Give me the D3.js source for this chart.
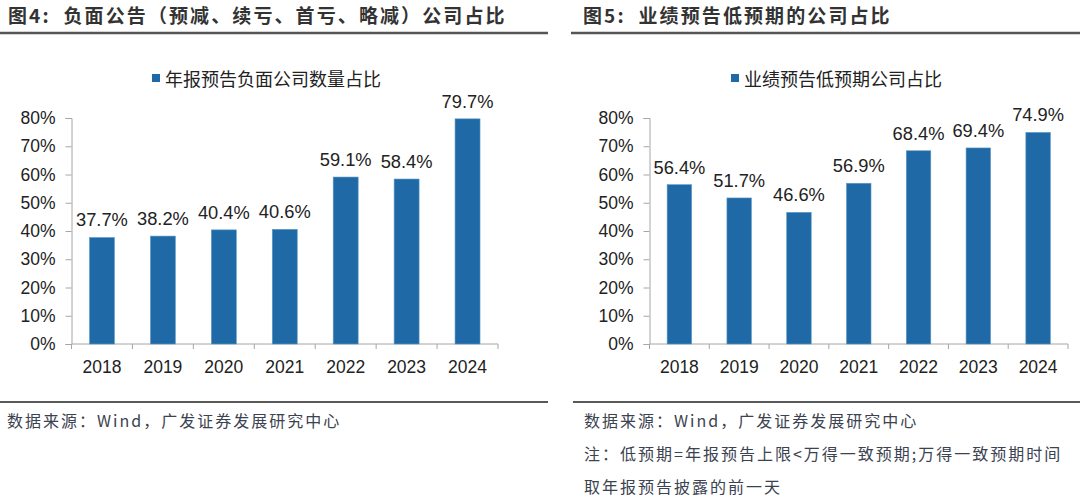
<!DOCTYPE html>
<html>
<head>
<meta charset="utf-8">
<script src="https://cdn.jsdelivr.net/npm/d3@7"></script>
<style>
  body { margin: 0; background: #fff; }
  svg { display: block; }
</style>
</head>
<body>
<div id="chart"></div>
<script>
// data
var years = ["2018", "2019", "2020", "2021", "2022", "2023", "2024"];
var negShare = [37.7, 38.2, 40.4, 40.6, 59.1, 58.4, 79.7];   // 图4
var lowShare = [56.4, 51.7, 46.6, 56.9, 68.4, 69.4, 74.9];   // 图5
var yTicks = [0, 10, 20, 30, 40, 50, 60, 70, 80];

var W = 1080, H = 499;
var blue = "#1f6aa6";
var numFont = "'Liberation Sans', Arial, sans-serif";
var cjkFont = "'Noto Sans CJK SC', sans-serif";

var svg = d3.select("#chart").append("svg")
    .attr("width", W)
    .attr("height", H);

function drawPanel(opt) {
    var g = svg.append("g");

    // title + rule under it
    g.append("text")
        .attr("x", opt.titleX).attr("y", 23)
        .attr("font-family", cjkFont).attr("font-weight", "bold")
        .attr("font-size", 19).attr("letter-spacing", 2.1)
        .attr("fill", "#333")
        .attr("xml:space", "preserve")
        .text(opt.title);
    g.append("line")
        .attr("x1", opt.lineX1).attr("x2", opt.lineX2)
        .attr("y1", 33).attr("y2", 33)
        .attr("stroke", "#555").attr("stroke-width", 2.5);

    // legend
    g.append("rect")
        .attr("x", opt.legendX).attr("y", 74)
        .attr("width", 8).attr("height", 8)
        .attr("fill", blue);
    g.append("text")
        .attr("x", opt.legendX + 13).attr("y", 86)
        .attr("font-family", cjkFont).attr("font-size", 18)
        .attr("fill", "#222")
        .text(opt.legend);

    // scales
    var x = d3.scaleBand().domain(years)
        .range([opt.x0, opt.x1])
        .paddingInner(0.59).paddingOuter(0.295);
    var y = d3.scaleLinear().domain([0, 80]).range([344, 118]);

    // y axis
    var yAxis = g.append("g")
        .attr("transform", "translate(" + opt.x0 + ",0)")
        .call(d3.axisLeft(y).tickValues(yTicks).tickSize(6).tickPadding(10)
            .tickFormat(function (d) { return d + "%"; }));
    yAxis.select(".domain").attr("stroke", "#a6a6a6");
    yAxis.selectAll(".tick line").attr("stroke", "#a6a6a6");
    yAxis.selectAll("text")
        .attr("font-family", numFont).attr("font-size", 17.5)
        .attr("fill", "#222");

    // x axis, ticks on category boundaries
    var band = (opt.x1 - opt.x0) / years.length;
    var xAxis = g.append("g")
        .attr("transform", "translate(0,344)");
    xAxis.append("line")
        .attr("x1", opt.x0).attr("x2", opt.x1)
        .attr("stroke", "#a6a6a6");
    xAxis.selectAll(".bnd")
        .data(d3.range(years.length + 1))
        .enter().append("line")
        .attr("x1", function (i) { return opt.x0 + i * band; })
        .attr("x2", function (i) { return opt.x0 + i * band; })
        .attr("y1", 0).attr("y2", 5)
        .attr("stroke", "#a6a6a6");
    xAxis.selectAll(".lbl")
        .data(years)
        .enter().append("text")
        .attr("x", function (d) { return x(d) + x.bandwidth() / 2; })
        .attr("y", 29)
        .attr("text-anchor", "middle")
        .attr("font-family", numFont).attr("font-size", 17.5)
        .attr("fill", "#222")
        .text(function (d) { return d; });

    // bars
    g.selectAll(".bar")
        .data(opt.values)
        .enter().append("rect")
        .attr("x", function (d, i) { return x(years[i]); })
        .attr("y", function (d) { return y(d); })
        .attr("width", x.bandwidth())
        .attr("height", function (d) { return 344 - y(d); })
        .attr("fill", blue)
        .attr("stroke", "#5f9ac6").attr("stroke-width", 0.6);

    g.selectAll(".val")
        .data(opt.values)
        .enter().append("text")
        .attr("x", function (d, i) { return x(years[i]) + x.bandwidth() / 2; })
        .attr("y", function (d) { return y(d) - 11; })
        .attr("text-anchor", "middle")
        .attr("font-family", numFont).attr("font-size", 18.3)
        .attr("fill", "#222")
        .text(function (d) { return d.toFixed(1) + "%"; });

    // bottom rule + notes
    g.append("line")
        .attr("x1", opt.botX1).attr("x2", opt.botX2)
        .attr("y1", 402).attr("y2", 402)
        .attr("stroke", "#222").attr("stroke-width", 1.5);
    g.selectAll(".note")
        .data(opt.notes)
        .enter().append("text")
        .attr("x", opt.noteX)
        .attr("y", function (d, i) { return 427 + i * 33; })
        .attr("font-family", cjkFont).attr("font-size", 16)
        .attr("letter-spacing", 2)
        .attr("fill", "#3b4250")
        .text(function (d) { return d; });
}

drawPanel({
    title: "图4:  负面公告（预减、续亏、首亏、略减）公司占比",
    titleX: 8, lineX1: 0, lineX2: 548,
    legend: "年报预告负面公司数量占比", legendX: 152,
    x0: 71.5, x1: 498,
    values: negShare,
    botX1: 0, botX2: 548, noteX: 7,
    notes: ["数据来源：Wind，广发证券发展研究中心"]
});

drawPanel({
    title: "图5:  业绩预告低预期的公司占比",
    titleX: 583, lineX1: 571, lineX2: 1080,
    legend: "业绩预告低预期公司占比", legendX: 731,
    x0: 649.5, x1: 1068,
    values: lowShare,
    botX1: 573, botX2: 1080, noteX: 584,
    notes: ["数据来源：Wind，广发证券发展研究中心",
            "注：低预期=年报预告上限<万得一致预期;万得一致预期时间",
            "取年报预告披露的前一天"]
});
</script>
</body>
</html>
